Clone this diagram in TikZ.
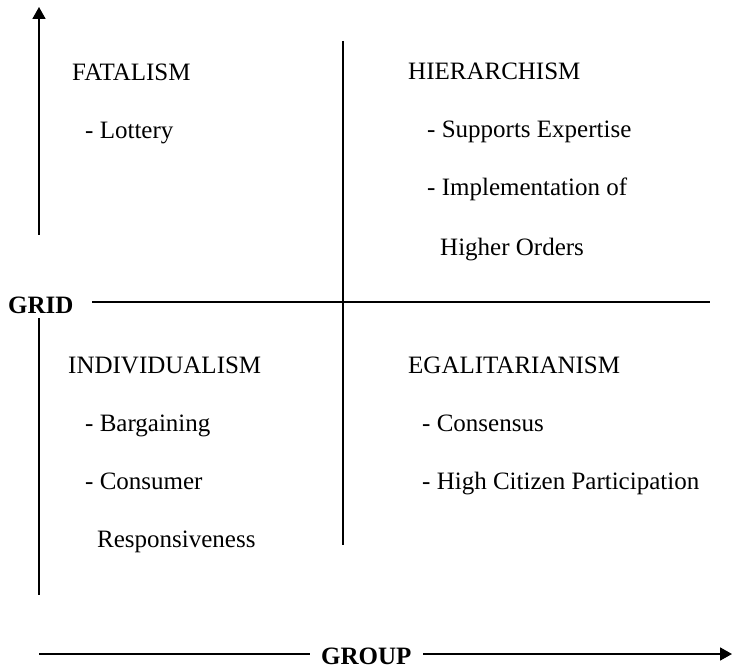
\documentclass[tikz,border=0pt]{standalone}
\usepackage{fontspec}
\setmainfont{Liberation Serif}
\usetikzlibrary{arrows.meta}

\begin{document}
\begin{tikzpicture}[x=1pt, y=-1pt,
    txt/.style={anchor=base west, inner sep=0pt, font=\fontsize{25}{29}\selectfont},
    axisname/.style={txt, font=\fontsize{25}{29}\selectfont\bfseries},
    line/.style={line width=1.8pt},
    tip/.style={-{Triangle[length=12pt, width=13pt]}}]
\useasboundingbox (0,0) rectangle (733,668);

% axes
\coordinate (Ytop) at (39,7);
\coordinate (Ymid) at (39,235);
\coordinate (Ylow) at (39,318);
\coordinate (Ybot) at (39,595);
\draw[line, tip] (Ymid) -- (Ytop);
\draw[line] (Ylow) -- (Ybot);

\node[axisname] (Grid) at (8,313) {GRID};
\coordinate (Hstart) at (92,302);
\coordinate (Hend) at (710,302);
\draw[line] (Hstart) -- (Hend);

\coordinate (Vtop) at (343,41);
\coordinate (Vbot) at (343,545);
\draw[line] (Vtop) -- (Vbot);

\node[axisname] (Group) at (321,664) {GROUP};
\coordinate (Xstart) at (39,654);
\coordinate (Xleft) at (310,654);
\coordinate (Xright) at (423,654);
\coordinate (Xend) at (732,654);
\draw[line] (Xstart) -- (Xleft);
\draw[line, tip] (Xright) -- (Xend);

% upper left
\node[txt] (Fat) at (72,81) {FATALISM};
\node[txt] (Fat1) at (85,139) {- Lottery};

% upper right
\node[txt] (Hier) at (408,80) {HIERARCHISM};
\node[txt] (Hier1) at (427,138) {- Supports Expertise};
\node[txt] (Hier2) at (427,196) {- Implementation of};
\node[txt] (Hier3) at (440,255) {Higher Orders};

% lower left
\node[txt] (Ind) at (68,373) {INDIVIDUALISM};
\node[txt] (Ind1) at (85,431) {- Bargaining};
\node[txt] (Ind2) at (85,489) {- Consumer};
\node[txt] (Ind3) at (97,547) {Responsiveness};

% lower right
\node[txt] (Ega) at (408,373) {EGALITARIANISM};
\node[txt] (Ega1) at (422,431) {- Consensus};
\node[txt] (Ega2) at (422,489) {- High Citizen Participation};
\end{tikzpicture}
\end{document}
